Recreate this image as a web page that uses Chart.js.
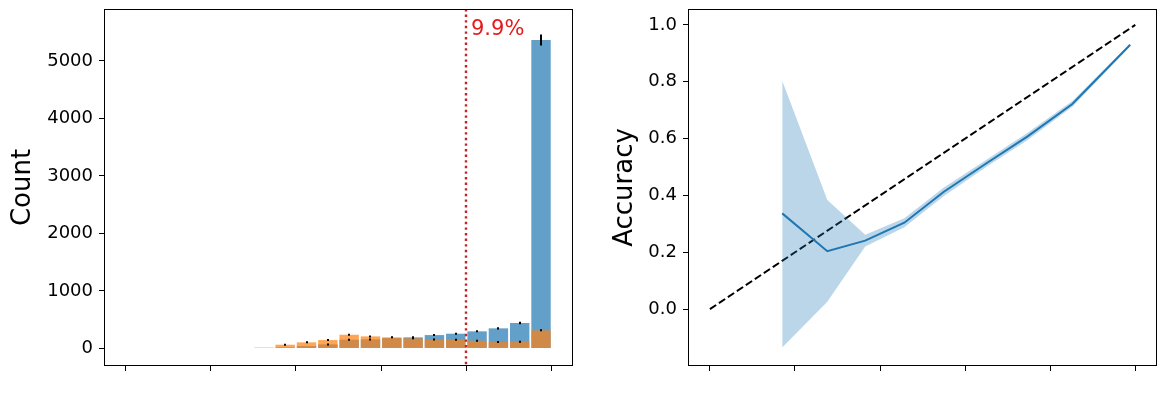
<!DOCTYPE html>
<html>
<head>
<meta charset="utf-8">
<script src="https://cdn.jsdelivr.net/npm/chart.js@4.4.1/dist/chart.umd.min.js"></script>
<style>
  html, body { margin: 0; padding: 0; background: #fff; }
  #wrap { position: relative; width: 1165px; height: 399px; }
  canvas { position: absolute; top: 0; }
  #histChart { left: 0; }
  #accChart { left: 590px; }
</style>
</head>
<body>
<div id="wrap">
  <canvas id="histChart" width="590" height="399"></canvas>
  <canvas id="accChart" width="575" height="399"></canvas>
</div>
<script>
// left: confidence histogram (bin centres, width 0.05)
const binCenters = [0.325, 0.375, 0.425, 0.475, 0.525, 0.575, 0.625, 0.675, 0.725, 0.775, 0.825, 0.875, 0.925, 0.975];
const blueCounts = [0, 20, 40, 70, 151, 157, 180, 192, 232, 256, 297, 349, 442, 5366];
const blueErr = [0, 0, 0, 8, 12, 12, 0, 14, 15, 16, 17, 19, 21, 95];
const orangeCounts = [16, 64, 105, 145, 238, 209, 192, 175, 157, 151, 134, 110, 116, 314];
const orangeErr = [0, 8, 10, 12, 15, 14, 14, 13, 12, 12, 11, 10, 10, 17];
const countTicks = [0, 1000, 2000, 3000, 4000, 5000];
const confTicks = [0, 0.2, 0.4, 0.6, 0.8, 1.0];
const cutoff = 0.8;
const cutoffLabel = '9.9%';

// right: reliability curve
const meanConf = [0.170, 0.276, 0.365, 0.457, 0.550, 0.652, 0.746, 0.852, 0.988];
const accuracy = [0.337, 0.204, 0.241, 0.304, 0.413, 0.515, 0.607, 0.722, 0.930];
const accUpper = [0.804, 0.384, 0.262, 0.320, 0.428, 0.527, 0.620, 0.732, 0.935];
const accLower = [-0.135, 0.026, 0.220, 0.288, 0.398, 0.503, 0.594, 0.712, 0.925];
const accTicks = [0.0, 0.2, 0.4, 0.6, 0.8, 1.0];
const diagonal = [0, 1];

const FONT = 'DejaVu Sans';
Chart.defaults.font.family = FONT;
Chart.defaults.color = '#000';

const frame = {
    id: 'frame',
    afterDraw(chart) {
        const a = chart.chartArea;
        const c = chart.ctx;
        c.save();
        c.strokeStyle = '#000';
        c.lineWidth = 1;
        c.strokeRect(a.left + 0.5, a.top + 0.5, a.right - a.left - 1, a.bottom - a.top - 1);
        c.restore();
    }
};

const extras = {
    id: 'extras',
    afterDatasetsDraw(chart) {
        const c = chart.ctx;
        const xs = chart.scales.x, ys = chart.scales.y;
        const a = chart.chartArea;
        c.save();
        // error bars
        c.strokeStyle = '#000';
        c.lineWidth = 2;
        [[blueCounts, blueErr], [orangeCounts, orangeErr]].forEach(([vals, errs]) => {
            vals.forEach((v, i) => {
                if (!errs[i]) return;
                const px = Math.round(xs.getPixelForValue(binCenters[i]));
                let y1 = ys.getPixelForValue(v + errs[i]);
                let y2 = ys.getPixelForValue(v - errs[i]);
                if (y2 - y1 < 2) { const m = (y1 + y2) / 2; y1 = m - 1; y2 = m + 1; }
                c.beginPath();
                c.moveTo(px, y1);
                c.lineTo(px, y2);
                c.stroke();
            });
        });
        // cutoff line
        const cx = Math.round(xs.getPixelForValue(cutoff));
        c.strokeStyle = '#c42424';
        c.lineWidth = 2.4;
        c.setLineDash([2.4, 3.2]);
        c.beginPath();
        c.moveTo(cx, a.top);
        c.lineTo(cx, a.bottom);
        c.stroke();
        c.setLineDash([]);
        c.fillStyle = '#e41a1c';
        c.font = '21px ' + FONT;
        c.textBaseline = 'alphabetic';
        c.textAlign = 'left';
        c.fillText(cutoffLabel, cx + 5, 35);
        c.restore();
    }
};

function tickSetter(vals) {
    return s => { s.ticks = vals.map(v => ({ value: v })); };
}

new Chart(document.getElementById('histChart'), {
    type: 'bar',
    data: {
        datasets: [
            {
                label: 'all',
                data: binCenters.map((x, i) => ({ x: x, y: blueCounts[i] })),
                backgroundColor: 'rgba(31,119,180,0.7)',
                order: 1
            },
            {
                label: 'correct',
                data: binCenters.map((x, i) => ({ x: x, y: orangeCounts[i] })),
                backgroundColor: 'rgba(255,127,14,0.7)',
                order: 0
            }
        ]
    },
    options: {
        responsive: false,
        animation: false,
        grouped: false,
        barPercentage: 0.91,
        categoryPercentage: 1.0,
        layout: { padding: { top: 9, right: 17, bottom: 0, left: 0 } },
        plugins: { legend: { display: false }, tooltip: { enabled: false } },
        scales: {
            x: {
                type: 'linear',
                offset: false,
                min: -0.05,
                max: 1.05,
                afterBuildTicks: tickSetter(confTicks),
                afterFit: s => { s.height = 33; s.paddingLeft = 0; s.paddingRight = 0; },
                ticks: { callback: () => '', autoSkip: false },
                grid: { drawOnChartArea: false, tickLength: 5, color: '#000', offset: false },
                border: { display: false }
            },
            y: {
                min: -306,
                max: 5904,
                afterBuildTicks: tickSetter(countTicks),
                afterFit: s => { s.width = 104; s.paddingTop = 0; s.paddingBottom = 0; },
                ticks: { callback: v => String(v), font: { size: 18 }, padding: 6, color: '#000' },
                grid: { drawOnChartArea: false, tickLength: 5, color: '#000' },
                border: { display: false },
                title: { display: true, text: 'Count', font: { size: 26 }, padding: { top: 8 }, color: '#000' }
            }
        }
    },
    plugins: [frame, extras]
});

new Chart(document.getElementById('accChart'), {
    type: 'line',
    data: {
        datasets: [
            {
                label: 'upper',
                data: meanConf.map((x, i) => ({ x: x, y: accUpper[i] })),
                borderWidth: 0,
                pointRadius: 0,
                backgroundColor: 'rgba(31,119,180,0.3)',
                fill: '+1'
            },
            {
                label: 'lower',
                data: meanConf.map((x, i) => ({ x: x, y: accLower[i] })),
                borderWidth: 0,
                pointRadius: 0,
                fill: false
            },
            {
                label: 'accuracy',
                data: meanConf.map((x, i) => ({ x: x, y: accuracy[i] })),
                borderColor: '#1f77b4',
                borderWidth: 2,
                pointRadius: 0,
                fill: false
            },
            {
                label: 'ideal',
                data: diagonal.map(v => ({ x: v, y: v })),
                borderColor: '#000',
                borderWidth: 2,
                borderDash: [7.5, 3.3],
                pointRadius: 0,
                fill: false
            }
        ]
    },
    options: {
        responsive: false,
        animation: false,
        layout: { padding: { top: 9, right: 8, bottom: 0, left: 0 } },
        plugins: { legend: { display: false }, tooltip: { enabled: false } },
        scales: {
            x: {
                type: 'linear',
                min: -0.0515,
                max: 1.051,
                afterBuildTicks: tickSetter(confTicks),
                afterFit: s => { s.height = 33; s.paddingLeft = 0; s.paddingRight = 0; },
                ticks: { callback: () => '', autoSkip: false },
                grid: { drawOnChartArea: false, tickLength: 5, color: '#000' },
                border: { display: false }
            },
            y: {
                min: -0.2,
                max: 1.056,
                afterBuildTicks: tickSetter(accTicks),
                afterFit: s => { s.width = 98; s.paddingTop = 0; s.paddingBottom = 0; },
                ticks: { callback: v => v.toFixed(1), font: { size: 18 }, padding: 6, color: '#000' },
                grid: { drawOnChartArea: false, tickLength: 5, color: '#000' },
                border: { display: false },
                title: { display: true, text: 'Accuracy', font: { size: 26 }, padding: { top: 20 }, color: '#000' }
            }
        }
    },
    plugins: [frame]
});
</script>
</body>
</html>
